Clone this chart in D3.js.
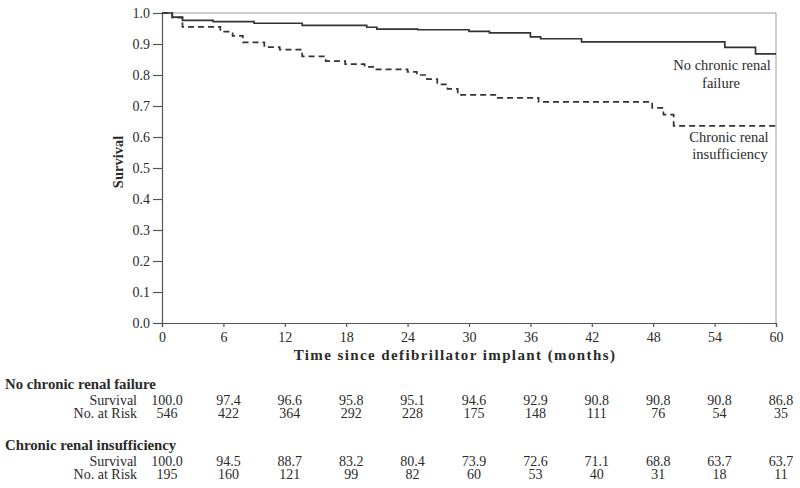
<!DOCTYPE html>
<html>
<head>
<meta charset="utf-8">
<script src="https://cdn.jsdelivr.net/npm/d3@7"></script>
<style>
  html, body { margin: 0; padding: 0; background: #fff; }
  svg { display: block; }
  text { font-family: "Liberation Serif", "Times New Roman", serif; fill: #2a2a2a; }
</style>
</head>
<body>
<svg id="chart" width="800" height="488"></svg>
<script>
// ---- data ----
const xTicks = [0, 6, 12, 18, 24, 30, 36, 42, 48, 54, 60];
const yTicks = [0, 0.1, 0.2, 0.3, 0.4, 0.5, 0.6, 0.7, 0.8, 0.9, 1.0];

// Kaplan-Meier steps: [month, survival]
const noCrfTimes = [0, 1, 2, 5, 9, 13.7, 20, 21, 25, 30, 32, 36, 37, 41, 55, 58, 60];
const noCrfSurv  = [1.0, 0.987, 0.976, 0.972, 0.967, 0.96, 0.954, 0.948, 0.946, 0.941, 0.936, 0.923, 0.917, 0.907, 0.889, 0.868, 0.868];

const criTimes = [0, 1, 2, 5.7, 6.9, 7.9, 10, 11.5, 13.7, 16, 17.9, 19.8, 20.8, 24, 24.9, 25.9, 26.9, 27.9, 28.9, 32.8, 36.8, 47.9, 49, 50, 60];
const criSurv  = [1.0, 0.985, 0.955, 0.94, 0.926, 0.905, 0.89, 0.882, 0.86, 0.845, 0.835, 0.826, 0.818, 0.81, 0.80, 0.787, 0.77, 0.755, 0.736, 0.726, 0.713, 0.694, 0.672, 0.636, 0.636];

const tableMonths = [0, 6, 12, 18, 24, 30, 36, 42, 48, 54, 60];
const noCrfTableSurv = ["100.0", "97.4", "96.6", "95.8", "95.1", "94.6", "92.9", "90.8", "90.8", "90.8", "86.8"];
const noCrfTableRisk = ["546", "422", "364", "292", "228", "175", "148", "111", "76", "54", "35"];
const criTableSurv = ["100.0", "94.5", "88.7", "83.2", "80.4", "73.9", "72.6", "71.1", "68.8", "63.7", "63.7"];
const criTableRisk = ["195", "160", "121", "99", "82", "60", "53", "40", "31", "18", "11"];

const groupNames = ["No chronic renal failure", "Chronic renal insufficiency"];
const rowLabels = ["Survival", "No. at Risk"];

// ---- layout ----
const svg = d3.select("#chart");
const pLeft = 162, pRight = 776, pTop = 13, pBottom = 323;

const x = d3.scaleLinear().domain([0, 60]).range([pLeft, pRight]);
const y = d3.scaleLinear().domain([0, 1]).range([pBottom, pTop]);

// frame (top and right) in light grey
svg.append("line").attr("x1", pLeft).attr("x2", pRight).attr("y1", pTop).attr("y2", pTop)
  .attr("stroke", "#9a9a9a").attr("stroke-width", 1);
svg.append("line").attr("x1", pRight).attr("x2", pRight).attr("y1", pTop).attr("y2", pBottom)
  .attr("stroke", "#9a9a9a").attr("stroke-width", 1);

// axes
const xAxis = d3.axisBottom(x).tickValues(xTicks).tickSize(4).tickPadding(5).tickFormat(d3.format("d"));
const yAxis = d3.axisLeft(y).tickValues(yTicks).tickSize(9).tickPadding(3).tickFormat(d3.format(".1f"));

const gx = svg.append("g").attr("transform", `translate(0,${pBottom})`).call(xAxis);
const gy = svg.append("g").attr("transform", `translate(${pLeft},0)`).call(yAxis);
[gx, gy].forEach(g => {
  g.select(".domain").attr("stroke", "#555").attr("stroke-width", 1.2);
  g.selectAll(".tick line").attr("stroke", "#555").attr("stroke-width", 1.2);
  g.selectAll(".tick text").attr("font-family", "Liberation Serif, serif").attr("font-size", 14).attr("fill", "#333");
});

// axis titles
svg.append("text").attr("x", 455).attr("y", 360)
  .attr("text-anchor", "middle").attr("font-weight", "bold").attr("font-size", 15)
  .attr("letter-spacing", 1.4)
  .text("Time since defibrillator implant (months)");
svg.append("text").attr("transform", `translate(123,162) rotate(-90)`)
  .attr("text-anchor", "middle").attr("font-weight", "bold").attr("font-size", 14.5)
  .text("Survival");

// curves
const line = d3.line().x(d => x(d[0])).y(d => y(d[1])).curve(d3.curveStepAfter);
const noCrf = noCrfTimes.map((t, i) => [t, noCrfSurv[i]]);
const cri = criTimes.map((t, i) => [t, criSurv[i]]);

svg.append("path").datum(noCrf).attr("d", line)
  .attr("fill", "none").attr("stroke", "#333").attr("stroke-width", 1.7);
svg.append("path").datum(cri).attr("d", line)
  .attr("fill", "none").attr("stroke", "#333").attr("stroke-width", 1.7)
  .attr("stroke-dasharray", "6,4");

// curve labels
const lab1 = svg.append("text").attr("text-anchor", "middle").attr("font-size", 14.5);
lab1.append("tspan").attr("x", 722).attr("y", 70).text("No chronic renal");
lab1.append("tspan").attr("x", 721).attr("y", 88).text("failure");
const lab2 = svg.append("text").attr("text-anchor", "middle").attr("font-size", 14.5);
lab2.append("tspan").attr("x", 729).attr("y", 142).text("Chronic renal");
lab2.append("tspan").attr("x", 730).attr("y", 159).text("insufficiency");

// risk table
const groups = [
  { name: groupNames[0], surv: noCrfTableSurv, risk: noCrfTableRisk, y0: 389 },
  { name: groupNames[1], surv: criTableSurv, risk: criTableRisk, y0: 450 }
];
groups.forEach(g => {
  svg.append("text").attr("x", 5).attr("y", g.y0).attr("font-weight", "bold").attr("font-size", 14.8)
    .attr("fill", "#111").text(g.name);
  [g.surv, g.risk].forEach((vals, r) => {
    const yy = g.y0 + 15.5 + r * 13.5;
    svg.append("text").attr("x", 137).attr("y", yy).attr("text-anchor", "end")
      .attr("font-size", 14).attr("fill", "#444").text(rowLabels[r]);
    svg.selectAll(null).data(vals).enter().append("text")
      .attr("x", (d, i) => x(tableMonths[i]) + 5).attr("y", yy)
      .attr("text-anchor", "middle").attr("font-size", 14).attr("fill", "#444")
      .text(d => d);
  });
});
</script>
</body>
</html>
